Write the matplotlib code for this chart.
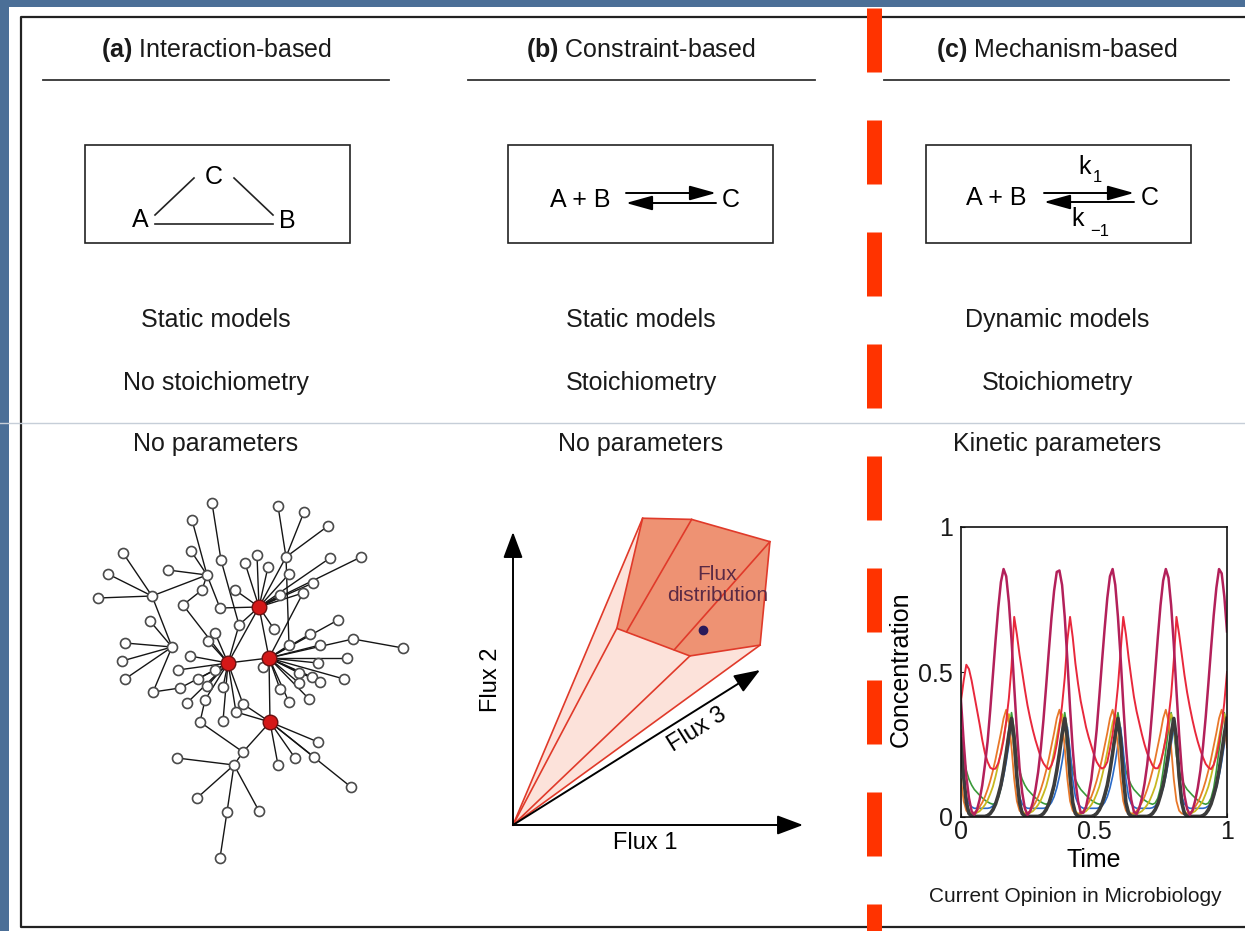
import numpy as np
import matplotlib.pyplot as plt
from matplotlib.patches import Rectangle, Polygon

plt.rcParams['font.family'] = ['Liberation Sans', 'DejaVu Sans']
plt.rcParams['mathtext.fontset'] = 'custom'
plt.rcParams['mathtext.rm'] = 'Liberation Sans'
plt.rcParams['mathtext.bf'] = 'Liberation Sans:bold'
plt.rcParams['lines.scale_dashes'] = False

# ---------------- text content ----------------
panel_titles = [r'$\mathbf{(a)}$ Interaction-based',
                r'$\mathbf{(b)}$ Constraint-based',
                r'$\mathbf{(c)}$ Mechanism-based']
row_dynamics = ['Static models', 'Static models', 'Dynamic models']
row_stoich = ['No stoichiometry', 'Stoichiometry', 'Stoichiometry']
row_params = ['No parameters', 'No parameters', 'Kinetic parameters']
column_x = [216, 641, 1057]

# ---------------- panel (a): interaction network (page pixel coords) ----------------
node_x = [212, 192, 278, 304, 328, 123, 191, 221, 286, 330, 361, 245, 257, 268, 108, 168,
          207, 289, 313, 98, 152, 202, 235, 280, 303, 183, 220, 259, 150, 239, 274, 338,
          215, 310, 125, 172, 208, 289, 320, 353, 403, 228, 269, 122, 125, 190, 263, 318,
          347, 178, 198, 215, 299, 312, 320, 344, 153, 180, 207, 223, 280, 299, 187, 205,
          289, 309, 243, 236, 270, 200, 223, 318, 243, 177, 278, 295, 314, 234, 351, 197,
          227, 259, 220]
node_y = [503, 520, 506, 512, 526, 553, 551, 560, 557, 558, 557, 563, 555, 567, 574, 570,
          575, 574, 583, 598, 596, 590, 590, 595, 593, 605, 608, 607, 621, 625, 629, 620,
          633, 634, 643, 647, 641, 645, 645, 639, 648, 663, 658, 661, 679, 656, 667, 663,
          658, 670, 679, 670, 673, 677, 682, 679, 692, 688, 686, 687, 689, 683, 703, 700,
          702, 699, 704, 712, 722, 722, 721, 742, 752, 758, 765, 758, 757, 765, 787, 798,
          812, 811, 858]
hub_nodes = [27, 41, 42, 68]
edges = [(27, 11), (27, 12), (27, 13), (27, 8), (27, 17), (27, 9), (27, 10), (27, 18),
         (27, 24), (27, 23), (27, 22), (27, 26), (27, 29), (27, 30), (27, 42), (27, 41),
         (8, 2), (8, 3), (8, 4), (8, 37),
         (42, 31), (42, 33), (42, 39), (42, 37), (42, 38), (42, 47), (42, 48), (42, 52),
         (42, 53), (42, 54), (42, 55), (42, 60), (42, 61), (42, 64), (42, 65), (42, 46),
         (42, 68), (42, 41), (42, 24), (39, 40),
         (41, 32), (41, 36), (41, 29), (41, 45), (41, 49), (41, 50), (41, 51), (41, 57),
         (41, 58), (41, 59), (41, 62), (41, 63), (41, 66), (41, 67), (41, 70), (41, 25),
         (68, 66), (68, 67), (68, 71), (68, 74), (68, 75), (68, 76), (68, 78), (68, 72),
         (20, 5), (20, 14), (20, 19), (20, 16), (20, 35), (35, 34), (35, 43), (35, 44),
         (35, 56), (35, 28), (56, 57), (16, 15), (16, 6), (16, 1), (16, 21), (16, 26),
         (7, 0), (7, 29), (21, 25), (69, 63), (69, 72), (72, 77), (77, 73), (77, 79),
         (77, 80), (77, 81), (80, 82)]

# ---------------- panel (b): flux cone (Flux 1 / Flux 2 projected units) ----------------
face_x = [0.447, 0.616, 0.886, 0.852, 0.610, 0.358]
face_y = [1.047, 1.043, 0.967, 0.614, 0.577, 0.671]
hull_x = [0.0, 0.852, 0.886, 0.616, 0.447]
hull_y = [0.0, 0.614, 0.967, 1.043, 1.047]
ray_x = [0.447, 0.358, 0.610, 0.852]
ray_y = [1.047, 0.671, 0.577, 0.614]
inner_x = [(0.616, 0.392), (0.886, 0.556)]
inner_y = [(1.043, 0.660), (0.967, 0.598)]
flux3_end = (0.852, 0.529)
flux_point = (0.656, 0.666)

# ---------------- panel (c): simulated concentrations ----------------
time = np.linspace(0, 1, 101)
conc_magenta = [0.40, 0.26, 0.14, 0.065, 0.02, 0.008, 0.025, 0.06, 0.11, 0.18,
                0.26, 0.37, 0.49, 0.61, 0.72, 0.81, 0.855, 0.83, 0.74, 0.61,
                0.45, 0.30, 0.17, 0.085, 0.03, 0.007, 0.02, 0.05, 0.095, 0.155,
                0.235, 0.335, 0.45, 0.57, 0.685, 0.78, 0.845, 0.85, 0.80, 0.69,
                0.54, 0.375, 0.235, 0.125, 0.055, 0.015, 0.015, 0.035, 0.08, 0.13,
                0.21, 0.30, 0.415, 0.535, 0.65, 0.755, 0.83, 0.855, 0.80, 0.69,
                0.55, 0.39, 0.245, 0.135, 0.06, 0.018, 0.01, 0.03, 0.065, 0.115,
                0.18, 0.27, 0.38, 0.50, 0.62, 0.73, 0.815, 0.855, 0.825, 0.73,
                0.595, 0.435, 0.285, 0.16, 0.075, 0.028, 0.008, 0.022, 0.055, 0.10,
                0.16, 0.245, 0.345, 0.46, 0.58, 0.695, 0.79, 0.855, 0.84, 0.76, 0.64]
conc_red = [0.40, 0.47, 0.525, 0.51, 0.47, 0.42, 0.37, 0.32, 0.265, 0.22,
            0.19, 0.17, 0.165, 0.167, 0.185, 0.22, 0.265, 0.33, 0.41, 0.52,
            0.69, 0.63, 0.56, 0.50, 0.44, 0.385, 0.34, 0.30, 0.265, 0.235,
            0.205, 0.185, 0.172, 0.165, 0.178, 0.205, 0.25, 0.31, 0.385, 0.48,
            0.61, 0.69, 0.62, 0.53, 0.46, 0.40, 0.355, 0.31, 0.275, 0.245,
            0.215, 0.19, 0.175, 0.167, 0.172, 0.19, 0.235, 0.285, 0.36, 0.45,
            0.57, 0.69, 0.63, 0.55, 0.48, 0.415, 0.365, 0.325, 0.285, 0.25,
            0.22, 0.198, 0.178, 0.168, 0.168, 0.187, 0.225, 0.27, 0.34, 0.42,
            0.54, 0.69, 0.63, 0.56, 0.49, 0.43, 0.38, 0.335, 0.295, 0.26,
            0.23, 0.205, 0.183, 0.171, 0.165, 0.18, 0.21, 0.255, 0.315, 0.395, 0.50]
conc_orange = [0.13, 0.055, 0.022, 0.012, 0.01, 0.015, 0.02, 0.035, 0.05, 0.07,
               0.095, 0.125, 0.16, 0.20, 0.245, 0.29, 0.34, 0.37, 0.33, 0.24,
               0.13, 0.055, 0.022, 0.012, 0.01, 0.015, 0.02, 0.035, 0.05, 0.07,
               0.095, 0.125, 0.16, 0.20, 0.245, 0.29, 0.34, 0.37, 0.33, 0.24,
               0.13, 0.055, 0.022, 0.012, 0.01, 0.015, 0.02, 0.035, 0.05, 0.07,
               0.095, 0.125, 0.16, 0.20, 0.245, 0.29, 0.34, 0.37, 0.33, 0.24,
               0.13, 0.055, 0.022, 0.012, 0.01, 0.015, 0.02, 0.035, 0.05, 0.07,
               0.095, 0.125, 0.16, 0.20, 0.245, 0.29, 0.34, 0.37, 0.33, 0.24,
               0.13, 0.055, 0.022, 0.012, 0.01, 0.012, 0.015, 0.02, 0.035, 0.05,
               0.07, 0.095, 0.125, 0.16, 0.20, 0.245, 0.29, 0.34, 0.37, 0.33, 0.24]
conc_yellow = [0.23, 0.12, 0.05, 0.02, 0.012, 0.01, 0.015, 0.02, 0.03, 0.042,
               0.058, 0.08, 0.105, 0.14, 0.18, 0.225, 0.275, 0.325, 0.355, 0.32,
               0.23, 0.12, 0.05, 0.02, 0.012, 0.01, 0.015, 0.02, 0.03, 0.042,
               0.058, 0.08, 0.105, 0.14, 0.18, 0.225, 0.275, 0.325, 0.355, 0.32,
               0.23, 0.12, 0.05, 0.02, 0.012, 0.01, 0.015, 0.02, 0.03, 0.042,
               0.058, 0.08, 0.105, 0.14, 0.18, 0.225, 0.275, 0.325, 0.355, 0.32,
               0.23, 0.12, 0.05, 0.02, 0.012, 0.01, 0.01, 0.015, 0.02, 0.03,
               0.042, 0.058, 0.08, 0.105, 0.14, 0.18, 0.225, 0.275, 0.325, 0.355,
               0.32, 0.23, 0.12, 0.05, 0.02, 0.012, 0.01, 0.015, 0.02, 0.03,
               0.042, 0.058, 0.08, 0.105, 0.14, 0.18, 0.225, 0.275, 0.325, 0.355, 0.32]
conc_green = [0.30, 0.21, 0.16, 0.13, 0.11, 0.095, 0.085, 0.075, 0.066, 0.058,
              0.052, 0.047, 0.044, 0.048, 0.065, 0.10, 0.16, 0.23, 0.30, 0.36,
              0.30, 0.21, 0.16, 0.13, 0.11, 0.095, 0.085, 0.075, 0.066, 0.058,
              0.052, 0.047, 0.044, 0.048, 0.065, 0.10, 0.16, 0.23, 0.30, 0.36,
              0.30, 0.21, 0.16, 0.13, 0.11, 0.095, 0.085, 0.075, 0.066, 0.058,
              0.052, 0.047, 0.044, 0.048, 0.065, 0.10, 0.16, 0.23, 0.30, 0.36,
              0.30, 0.21, 0.16, 0.13, 0.11, 0.095, 0.085, 0.075, 0.066, 0.058,
              0.052, 0.047, 0.044, 0.048, 0.065, 0.10, 0.16, 0.23, 0.30, 0.36,
              0.30, 0.21, 0.16, 0.13, 0.11, 0.095, 0.085, 0.075, 0.066, 0.058,
              0.052, 0.047, 0.044, 0.048, 0.065, 0.10, 0.16, 0.23, 0.30, 0.36, 0.30]
conc_blue = [0.23, 0.13, 0.07, 0.045, 0.035, 0.03, 0.03, 0.03, 0.03, 0.03,
             0.03, 0.032, 0.038, 0.05, 0.07, 0.10, 0.14, 0.19, 0.25, 0.31,
             0.23, 0.13, 0.07, 0.045, 0.035, 0.03, 0.03, 0.03, 0.03, 0.03,
             0.03, 0.03, 0.032, 0.038, 0.05, 0.07, 0.10, 0.14, 0.19, 0.25,
             0.31, 0.23, 0.13, 0.07, 0.045, 0.035, 0.03, 0.03, 0.03, 0.03,
             0.03, 0.03, 0.032, 0.038, 0.05, 0.07, 0.10, 0.14, 0.19, 0.25,
             0.31, 0.23, 0.13, 0.07, 0.045, 0.035, 0.03, 0.03, 0.03, 0.03,
             0.03, 0.03, 0.032, 0.038, 0.05, 0.07, 0.10, 0.14, 0.19, 0.25,
             0.31, 0.23, 0.13, 0.07, 0.045, 0.035, 0.03, 0.03, 0.03, 0.03,
             0.03, 0.03, 0.032, 0.038, 0.05, 0.07, 0.10, 0.14, 0.19, 0.25, 0.31]
conc_dark = [0.27, 0.14, 0.05, 0.012, 0.003, 0.002, 0.002, 0.002, 0.002, 0.002,
             0.005, 0.012, 0.025, 0.045, 0.075, 0.11, 0.16, 0.22, 0.285, 0.34,
             0.27, 0.14, 0.05, 0.012, 0.003, 0.002, 0.002, 0.002, 0.002, 0.002,
             0.005, 0.012, 0.025, 0.045, 0.075, 0.11, 0.16, 0.22, 0.285, 0.34,
             0.27, 0.14, 0.05, 0.012, 0.003, 0.002, 0.002, 0.002, 0.002, 0.002,
             0.005, 0.012, 0.025, 0.045, 0.075, 0.11, 0.16, 0.22, 0.285, 0.34,
             0.27, 0.14, 0.05, 0.012, 0.003, 0.002, 0.002, 0.002, 0.002, 0.002,
             0.002, 0.005, 0.012, 0.025, 0.045, 0.075, 0.11, 0.16, 0.22, 0.285,
             0.34, 0.27, 0.14, 0.05, 0.012, 0.003, 0.002, 0.002, 0.002, 0.002,
             0.002, 0.005, 0.012, 0.025, 0.045, 0.075, 0.11, 0.16, 0.22, 0.285, 0.34]

# ================= figure =================
fig = plt.figure(figsize=(12.45, 9.31), dpi=100)
fig.patch.set_facecolor('#4b6f97')

ax0 = fig.add_axes([0, 0, 1, 1])
ax0.set_xlim(0, 1245)
ax0.set_ylim(931, 0)
ax0.axis('off')

# white slide panel + frame
ax0.add_patch(Rectangle((9, 7), 1240, 930, facecolor='white', edgecolor='none', zorder=0))
ax0.plot([1250, 20.5, 20.5, 1250], [16.5, 16.5, 927, 927], color='#222222', lw=1.6, zorder=1)
ax0.axhline(423, color='#c6ced8', lw=1.0, zorder=1)

# headings, rules and row labels
underline_x = [(43, 389), (468, 815), (884, 1229)]
for cx, title, (x1, x2) in zip(column_x, panel_titles, underline_x):
    ax0.text(cx, 50, title, fontsize=18, ha='center', va='center', color='#1a1a1a')
    ax0.plot([x1, x2], [80, 80], color='#333333', lw=1.3)
for cx, t1, t2, t3 in zip(column_x, row_dynamics, row_stoich, row_params):
    ax0.text(cx, 320, t1, fontsize=18, ha='center', va='center', color='#1a1a1a')
    ax0.text(cx, 383, t2, fontsize=18, ha='center', va='center', color='#1a1a1a')
    ax0.text(cx, 444, t3, fontsize=18, ha='center', va='center', color='#1a1a1a')

# reaction boxes
for bx in [85, 508, 926]:
    ax0.add_patch(Rectangle((bx, 145), 265, 98, facecolor='none', edgecolor='#222222', lw=1.2))

# (a) triangle A - C - B
ax0.text(140, 220, 'A', fontsize=18, ha='center', va='center')
ax0.text(287, 221, 'B', fontsize=18, ha='center', va='center')
ax0.text(214, 177, 'C', fontsize=18, ha='center', va='center')
ax0.plot([155, 194], [215, 178], color='#222222', lw=1.2)
ax0.plot([234, 273], [178, 215], color='#222222', lw=1.2)
ax0.plot([155, 273], [224, 224], color='#222222', lw=1.2)

arrow_kw = dict(arrowstyle='-|>,head_length=0.9,head_width=0.25', color='black', lw=1.4,
                shrinkA=0, shrinkB=0, mutation_scale=18)
# (b) A + B <=> C
ax0.text(580, 200, 'A + B', fontsize=18, ha='center', va='center')
ax0.text(731, 200, 'C', fontsize=18, ha='center', va='center')
ax0.annotate('', xy=(716, 193), xytext=(626, 193), arrowprops=arrow_kw)
ax0.annotate('', xy=(626, 203), xytext=(716, 203), arrowprops=arrow_kw)
# (c) A + B <=> C with rate constants
ax0.text(996, 198, 'A + B', fontsize=18, ha='center', va='center')
ax0.text(1150, 198, 'C', fontsize=18, ha='center', va='center')
ax0.annotate('', xy=(1134, 193), xytext=(1044, 193), arrowprops=arrow_kw)
ax0.annotate('', xy=(1044, 202), xytext=(1134, 202), arrowprops=arrow_kw)
ax0.text(1085, 167, 'k', fontsize=18, ha='center', va='center')
ax0.text(1097, 178, '1', fontsize=12, ha='center', va='center')
ax0.text(1078, 219, 'k', fontsize=18, ha='center', va='center')
ax0.text(1100, 232, '\u22121', fontsize=12, ha='center', va='center')

# red dashed divider
ax0.plot([873.5, 873.5], [8, 931], color='#ff3300', lw=15 * 0.72,
         dashes=(64 * 0.72, 48 * 0.72), dash_capstyle='butt', solid_capstyle='butt', zorder=5)

# (a) network
for i, j in edges:
    ax0.plot([node_x[i], node_x[j]], [node_y[i], node_y[j]], color='#151515', lw=1.0, zorder=2)
plain = [k for k in range(len(node_x)) if k not in hub_nodes]
ax0.plot([node_x[k] for k in plain], [node_y[k] for k in plain], 'o', ms=7.2,
         mfc='white', mec='#4a4a4a', mew=1.2, zorder=3)
ax0.plot([node_x[k] for k in hub_nodes], [node_y[k] for k in hub_nodes], 'o', ms=10.5,
         mfc='#d41818', mec='#6a1010', mew=1.0, zorder=4)

ax0.text(1075, 897, 'Current Opinion in Microbiology', fontsize=15, ha='center',
         va='center', color='#1a1a1a')

# ================= (b) flux cone =================
axb = fig.add_axes([513 / 1245, 1 - 825 / 931, 290 / 1245, 293 / 931])
axb.set_xlim(0, 1)
axb.set_ylim(0, 1)
axb.axis('off')
axb.add_patch(Polygon(list(zip(hull_x, hull_y)), closed=True, facecolor='#fce2da',
                      edgecolor='none', clip_on=False, zorder=1))
axb.add_patch(Polygon(list(zip(face_x, face_y)), closed=True, facecolor='#ee9273',
                      edgecolor='#e03a2a', lw=1.2, clip_on=False, zorder=2))
for rx, ry in zip(ray_x, ray_y):
    axb.plot([0, rx], [0, ry], color='#e03a2a', lw=1.2, clip_on=False, zorder=3)
for lx, ly in zip(inner_x, inner_y):
    axb.plot(lx, ly, color='#e03a2a', lw=1.2, clip_on=False, zorder=3)
ax_arrow = dict(arrowstyle='-|>,head_length=0.8,head_width=0.3', color='black', lw=1.4,
                shrinkA=0, shrinkB=0, mutation_scale=20)
axb.annotate('', xy=(1.0, 0), xytext=(0, 0), arrowprops=ax_arrow, annotation_clip=False, zorder=4)
axb.annotate('', xy=(0, 1.0), xytext=(0, 0), arrowprops=ax_arrow, annotation_clip=False, zorder=4)
axb.annotate('', xy=flux3_end, xytext=(0, 0), arrowprops=ax_arrow, annotation_clip=False, zorder=4)
axb.plot(*flux_point, 'o', ms=6, color='#2a1a5a', clip_on=False, zorder=5)
axb.text(0.705, 0.82, 'Flux\ndistribution', fontsize=15, ha='center', va='center',
         color='#5a2a45', linespacing=1.15, zorder=6)
axb.text(0.455, -0.061, 'Flux 1', fontsize=17, ha='center', va='center')
axb.text(-0.075, 0.495, 'Flux 2', fontsize=17, ha='center', va='center', rotation=90)
axb.text(0.634, 0.324, 'Flux 3', fontsize=17, ha='center', va='center', rotation=32)

# ================= (c) time courses =================
axc = fig.add_axes([961 / 1245, 1 - 817 / 931, 266 / 1245, 290 / 931])
axc.plot(time, conc_green, color='#3a9a3a', lw=1.2)
axc.plot(time, conc_blue, color='#2a6ac8', lw=1.2)
axc.plot(time, conc_yellow, color='#c8b820', lw=1.3)
axc.plot(time, conc_orange, color='#e8782a', lw=1.3)
axc.plot(time, conc_dark, color='#3c3c3c', lw=2.6)
axc.plot(time, conc_red, color='#e8283c', lw=1.4)
axc.plot(time, conc_magenta, color='#b3205a', lw=1.8)
axc.set_xlim(0, 1)
axc.set_ylim(0, 1)
axc.set_xticks([0, 0.5, 1])
axc.set_xticklabels(['0', '0.5', '1'])
axc.set_yticks([0, 0.5, 1])
axc.set_yticklabels(['0', '0.5', '1'])
axc.tick_params(direction='in', length=3, labelsize=18, colors='#1a1a1a')
axc.tick_params(axis='x', pad=2)
axc.tick_params(axis='y', pad=6)
for sp in axc.spines.values():
    sp.set_linewidth(1.2)
    sp.set_color('#111111')
axc.text(-0.225, 0.51, 'Concentration', transform=axc.transAxes, fontsize=18,
         rotation=90, ha='center', va='center')
axc.text(0.5, -0.148, 'Time', transform=axc.transAxes, fontsize=18, ha='center', va='center')

fig.savefig('out.png', dpi=100, facecolor=fig.get_facecolor())
